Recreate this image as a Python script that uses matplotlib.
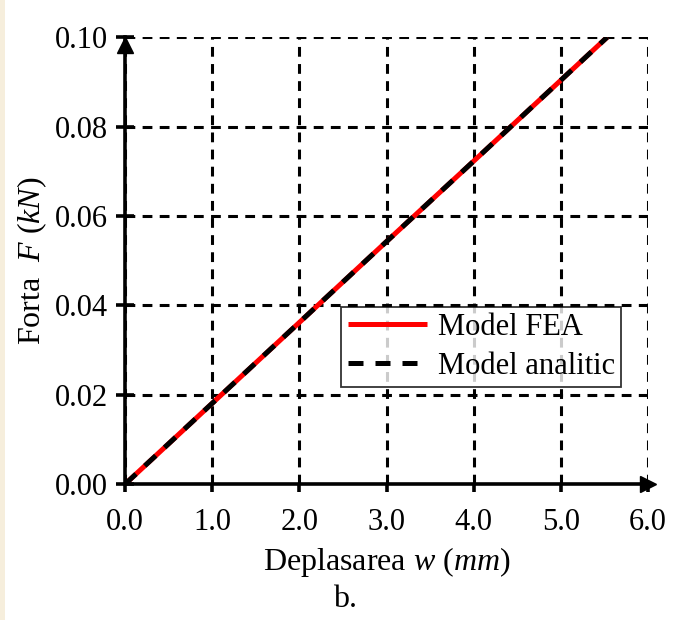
import matplotlib
matplotlib.use("Agg")
import matplotlib.pyplot as plt
from matplotlib.patches import Rectangle

# Force-displacement data
w_fea = [0.0, 1.0, 2.0, 3.0, 4.0, 5.0, 5.53]
f_fea = [0.0, 0.0181, 0.0362, 0.0543, 0.0723, 0.0904, 0.100]
w_anal = [0.0, 1.0, 2.0, 3.0, 4.0, 5.0, 5.53]
f_anal = [0.0, 0.0181, 0.0362, 0.0543, 0.0723, 0.0904, 0.100]

x_ticks = [0.0, 1.0, 2.0, 3.0, 4.0, 5.0, 6.0]
y_ticks = [0.00, 0.02, 0.04, 0.06, 0.08, 0.10]

plt.rcParams["font.family"] = ["Liberation Serif", "DejaVu Serif"]
plt.rcParams["mathtext.fontset"] = "custom"
plt.rcParams["mathtext.rm"] = "Liberation Serif"
plt.rcParams["mathtext.it"] = "Liberation Serif:italic"

fig = plt.figure(figsize=(6.83, 6.2), dpi=100)
fig.patches.append(Rectangle((0, 0), 0.008, 1, transform=fig.transFigure,
                             facecolor="#f6eedc", edgecolor="none", zorder=0))

ax = fig.add_axes([0.183, 0.219, 0.766, 0.721])
ax.set_xlim(0, 6)
ax.set_ylim(0, 0.1)

ax.grid(True, color="black", linestyle=(0, (3.2, 2.4)), linewidth=2.2)
ax.set_axisbelow(True)

ax.plot(w_fea, f_fea, color="red", linewidth=3.6, label="Model FEA",
        solid_capstyle="butt", zorder=3)
ax.plot(w_anal, f_anal, color="black", linewidth=3.6, linestyle=(0, (3.0, 2.4)),
        label="Model analitic", zorder=4)

for side in ["top", "right"]:
    ax.spines[side].set_visible(False)
for side in ["left", "bottom"]:
    ax.spines[side].set_linewidth(2.6)
    ax.spines[side].set_zorder(5)

ax.plot(1.0, 0, ">", color="black", markersize=12, transform=ax.transAxes,
        clip_on=False, zorder=6)
ax.plot(0, 0.983, "^", color="black", markersize=12, transform=ax.transAxes,
        clip_on=False, zorder=6)

ax.set_xticks(x_ticks)
ax.set_xticklabels([f"{v:.1f}" for v in x_ticks])
ax.set_yticks(y_ticks)
ax.set_yticklabels([f"{v:.2f}" for v in y_ticks])
ax.tick_params(axis="x", direction="out", length=6, width=2.6, labelsize=22, pad=11)
ax.tick_params(axis="y", direction="inout", length=13, width=2.6, labelsize=22, pad=6)

ax.set_xlabel(r"Deplasarea $w$ ($mm$)", fontsize=23, labelpad=6)
ax.set_ylabel(r"Forta  $F$ ($kN$)", fontsize=23, labelpad=4)
fig.text(0.505, 0.033, "b.", ha="center", va="center", fontsize=23)

leg = ax.legend(loc="lower right", bbox_to_anchor=(0.948, 0.218), fontsize=22,
                frameon=True, fancybox=False, edgecolor="black",
                handlelength=2.6, handletextpad=0.35, borderpad=0.2,
                borderaxespad=0, labelspacing=0.32)
leg.get_frame().set_linewidth(1.3)
leg.set_zorder(7)

fig.savefig("out.png", dpi=100, facecolor="white")
